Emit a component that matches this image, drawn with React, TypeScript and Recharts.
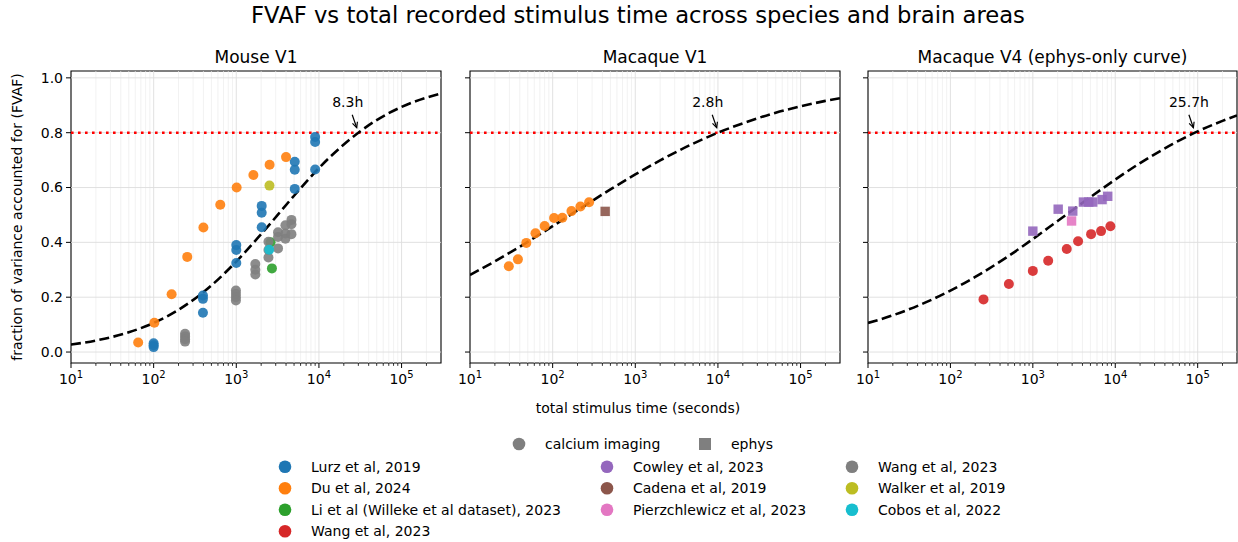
import React from "react";
import {
  ComposedChart,
  Scatter,
  Line,
  XAxis,
  YAxis,
  ReferenceLine,
  ReferenceArea,
  ReferenceDot,
} from "recharts";

const curveTime = [10, 20, 50, 100, 200, 500, 1000, 2000, 5000, 10000, 20000, 50000, 100000, 200000, 300000];
const mouseCurve = [0.027, 0.042, 0.072, 0.106, 0.154, 0.243, 0.33, 0.43, 0.57, 0.671, 0.757, 0.846, 0.894, 0.928, 0.943];
const macaqueV1Curve = [0.281, 0.331, 0.402, 0.459, 0.517, 0.593, 0.648, 0.699, 0.76, 0.8, 0.834, 0.873, 0.896, 0.916, 0.926];
const macaqueV4Curve = [0.106, 0.134, 0.181, 0.224, 0.274, 0.349, 0.412, 0.478, 0.565, 0.629, 0.689, 0.759, 0.805, 0.843, 0.863];

const panelTitles = ["Mouse V1", "Macaque V1", "Macaque V4 (ephys-only curve)"];
const crossingSeconds = [29880, 10080, 92520];
const crossingLabels = ["8.3h", "2.8h", "25.7h"];
const target = 0.8;

const sourceNames = [
  "Lurz et al, 2019",
  "Du et al, 2024",
  "Li et al (Willeke et al dataset), 2023",
  "Wang et al, 2023",
  "Cowley et al, 2023",
  "Cadena et al, 2019",
  "Pierzchlewicz et al, 2023",
  "Wang et al, 2023",
  "Walker et al, 2019",
  "Cobos et al, 2022",
];
const sourceColors = ["#1f77b4", "#ff7f0e", "#2ca02c", "#d62728", "#9467bd", "#8c564b", "#e377c2", "#7f7f7f", "#bcbd22", "#17becf"];
const sourceMethod = ["calcium", "calcium", "calcium", "calcium", "ephys", "ephys", "ephys", "calcium", "calcium", "calcium"];

// Mouse V1
const lurzTime = [100, 100, 100, 395, 395, 395, 1000, 1000, 1000, 2030, 2030, 2030, 5100, 5100, 5100, 9000, 9000, 9000];
const lurzFvaf = [0.032, 0.025, 0.018, 0.206, 0.194, 0.143, 0.39, 0.372, 0.325, 0.533, 0.508, 0.455, 0.694, 0.665, 0.595, 0.784, 0.766, 0.666];
const duMouseTime = [65, 102, 165, 255, 400, 640, 1010, 1610, 2530, 4000];
const duMouseFvaf = [0.035, 0.107, 0.211, 0.347, 0.454, 0.537, 0.6, 0.646, 0.683, 0.711];
const liTime = [2600, 2700];
const liFvaf = [0.4, 0.305];
const wangMouseTime = [240, 240, 240, 240, 990, 990, 990, 990, 1700, 1700, 1700, 2450, 2450, 2450, 3200, 3200, 3200, 3930, 3930, 3930, 4650, 4650, 4650];
const wangMouseFvaf = [0.067, 0.057, 0.047, 0.038, 0.224, 0.212, 0.2, 0.188, 0.321, 0.3, 0.283, 0.402, 0.372, 0.345, 0.437, 0.42, 0.378, 0.462, 0.432, 0.413, 0.482, 0.466, 0.43];
const walkerTime = [2520];
const walkerFvaf = [0.607];
const cobosTime = [2500];
const cobosFvaf = [0.373];

// Macaque V1
const duMacaqueTime = [29.5, 38, 48, 62, 80, 104, 131, 169, 217, 276];
const duMacaqueFvaf = [0.313, 0.338, 0.398, 0.433, 0.46, 0.489, 0.49, 0.514, 0.531, 0.546];
const cadenaTime = [432];
const cadenaFvaf = [0.513];

// Macaque V4
const wangV4Time = [252, 512, 1000, 1535, 2580, 3540, 5090, 6730, 8730];
const wangV4Fvaf = [0.192, 0.248, 0.296, 0.333, 0.376, 0.404, 0.43, 0.441, 0.459];
const cowleyTime = [1000, 2030, 3050, 4110, 4770, 5330, 6920, 8100];
const cowleyFvaf = [0.441, 0.521, 0.514, 0.547, 0.547, 0.547, 0.556, 0.568];
const pierzTime = [2950];
const pierzFvaf = [0.478];

const xTicks = [10, 100, 1000, 10000, 100000];
const yTicks = [0, 0.2, 0.4, 0.6, 0.8, 1.0];
const X_DOMAIN = [10, 300000];
const Y_DOMAIN = [-0.04, 1.025];

const FONT = "DejaVu Sans, sans-serif";

const minorX: number[] = [];
for (const d of [10, 100, 1000, 10000, 100000]) {
  for (let m = 2; m <= 9; m++) {
    if (d * m < X_DOMAIN[1]) minorX.push(d * m);
  }
}

const zip = (t: number[], f: number[]) => t.map((x, i) => ({ x, y: f[i] }));

type Group = { src: number; t: number[]; f: number[] };

const panels: { curve: number[]; groups: Group[] }[] = [
  {
    curve: mouseCurve,
    groups: [
      { src: 0, t: lurzTime, f: lurzFvaf },
      { src: 1, t: duMouseTime, f: duMouseFvaf },
      { src: 2, t: liTime, f: liFvaf },
      { src: 7, t: wangMouseTime, f: wangMouseFvaf },
      { src: 8, t: walkerTime, f: walkerFvaf },
      { src: 9, t: cobosTime, f: cobosFvaf },
    ],
  },
  {
    curve: macaqueV1Curve,
    groups: [
      { src: 1, t: duMacaqueTime, f: duMacaqueFvaf },
      { src: 5, t: cadenaTime, f: cadenaFvaf },
    ],
  },
  {
    curve: macaqueV4Curve,
    groups: [
      { src: 3, t: wangV4Time, f: wangV4Fvaf },
      { src: 4, t: cowleyTime, f: cowleyFvaf },
      { src: 6, t: pierzTime, f: pierzFvaf },
    ],
  },
];

// where each panel sits on the page
const layout = [
  { left: 0, width: 450, marginLeft: 31, marginRight: 9, yWidth: 40, labels: true },
  { left: 440, width: 410, marginLeft: 20, marginRight: 10, yWidth: 10, labels: false },
  { left: 838, width: 400, marginLeft: 20, marginRight: 1, yWidth: 10, labels: false },
];

function LogTick(props: any) {
  const { x, y, payload } = props;
  const exp = Math.round(Math.log10(payload.value));
  return (
    <text x={x} y={y + 13} textAnchor="middle" fontSize={14} fill="#000" fontFamily={FONT}>
      <tspan>10</tspan>
      <tspan dy={-6} fontSize={10}>{exp}</tspan>
    </text>
  );
}

function EmptyTick() {
  return <g />;
}

function Annotation({ cx, cy, text }: { cx: number; cy: number; text: string }) {
  const x1 = cx - 6;
  const y1 = cy - 18;
  const x2 = cx - 1.5;
  const y2 = cy - 5;
  const ang = Math.atan2(y2 - y1, x2 - x1);
  const hl = 6;
  const hw = 0.45;
  const a = [x2 - hl * Math.cos(ang - hw), y2 - hl * Math.sin(ang - hw)];
  const b = [x2 - hl * Math.cos(ang + hw), y2 - hl * Math.sin(ang + hw)];
  return (
    <g>
      <text x={cx - 26} y={cy - 26} fontSize={14} fill="#000" fontFamily={FONT}>
        {text}
      </text>
      <line x1={x1} y1={y1} x2={x2} y2={y2} stroke="#000" strokeWidth={1.2} />
      <polyline points={`${a[0]},${a[1]} ${x2},${y2} ${b[0]},${b[1]}`} fill="none" stroke="#000" strokeWidth={1.2} />
    </g>
  );
}

function marker(color: string, method: string) {
  return (p: any) =>
    method === "ephys" ? (
      <rect x={p.cx - 4.7} y={p.cy - 4.7} width={9.4} height={9.4} fill={color} fillOpacity={0.9} />
    ) : (
      <circle cx={p.cx} cy={p.cy} r={5} fill={color} fillOpacity={0.9} />
    );
}

function Panel({ idx }: { idx: number }) {
  const l = layout[idx];
  const panel = panels[idx];
  const curveData = zip(curveTime, panel.curve);
  return (
    <div style={{ position: "absolute", left: l.left, top: 0 }}>
      <ComposedChart
        width={l.width}
        height={395}
        margin={{ top: 71, right: l.marginRight, left: l.marginLeft, bottom: 0 }}
      >
        <XAxis
          dataKey="x"
          type="number"
          scale="log"
          domain={X_DOMAIN}
          allowDataOverflow
          ticks={xTicks}
          tick={<LogTick />}
          tickSize={5}
          tickMargin={3}
          height={32}
          axisLine={false}
          tickLine={{ stroke: "#000", strokeWidth: 1 }}
        />
        <YAxis
          dataKey="y"
          type="number"
          domain={Y_DOMAIN}
          allowDataOverflow
          ticks={yTicks}
          width={l.yWidth}
          tickSize={5}
          tickMargin={3}
          axisLine={false}
          tickLine={{ stroke: "#000", strokeWidth: 1 }}
          tick={l.labels ? { fontSize: 14, fill: "#000", fontFamily: FONT } : <EmptyTick />}
          tickFormatter={(v: number) => v.toFixed(1)}
        />
        {minorX.map((v) => (
          <ReferenceLine key={"mg" + v} x={v} stroke="#ececec" strokeWidth={0.7} />
        ))}
        {xTicks.slice(1).map((v) => (
          <ReferenceLine key={"g" + v} x={v} stroke="#dedede" strokeWidth={0.9} />
        ))}
        {yTicks.map((v) => (
          <ReferenceLine key={"h" + v} y={v} stroke="#dedede" strokeWidth={0.9} />
        ))}
        {minorX.map((v) => (
          <ReferenceLine
            key={"mt" + v}
            segment={[
              { x: v, y: Y_DOMAIN[0] },
              { x: v, y: Y_DOMAIN[0] - 0.0105 },
            ]}
            ifOverflow="visible"
            stroke="#000"
            strokeWidth={0.8}
          />
        ))}
        <ReferenceLine y={target} stroke="#ff0000" strokeWidth={2.6} strokeDasharray="2.6 4.4" />
        {panel.groups.map((g) => (
          <Scatter
            key={g.src}
            name={sourceNames[g.src]}
            data={zip(g.t, g.f)}
            dataKey="y"
            fill={sourceColors[g.src]}
            shape={marker(sourceColors[g.src], sourceMethod[g.src])}
            isAnimationActive={false}
          />
        ))}
        <Line
          data={curveData}
          dataKey="y"
          type="monotone"
          stroke="#000"
          strokeWidth={2.6}
          strokeDasharray="10 4.4"
          dot={false}
          activeDot={false}
          isAnimationActive={false}
        />
        <ReferenceDot
          x={crossingSeconds[idx]}
          y={target}
          r={0}
          shape={(p: any) => <Annotation cx={p.cx} cy={p.cy} text={crossingLabels[idx]} />}
        />
        <ReferenceArea
          x1={X_DOMAIN[0]}
          x2={X_DOMAIN[1]}
          y1={Y_DOMAIN[0]}
          y2={Y_DOMAIN[1]}
          fill="none"
          fillOpacity={0}
          stroke="#000"
          strokeWidth={1.1}
        />
      </ComposedChart>
    </div>
  );
}

const titleCenters = [256, 655, 1052.5];
const legendColX = [285, 607, 852];
const legendColOf = [0, 0, 0, 0, 1, 1, 1, 2, 2, 2];
const legendRowOf = [0, 1, 2, 3, 0, 1, 2, 0, 1, 2];

export default function App() {
  return (
    <div
      style={{
        position: "absolute",
        left: 0,
        top: 0,
        width: 1238,
        height: 542,
        background: "#fff",
        fontFamily: FONT,
      }}
    >
      {panels.map((_, i) => (
        <Panel key={i} idx={i} />
      ))}
      <svg
        width={1238}
        height={542}
        style={{ position: "absolute", left: 0, top: 0, pointerEvents: "none" }}
        fontFamily={FONT}
      >
        <text x={638} y={23} textAnchor="middle" fontSize={22.7} fill="#000">
          FVAF vs total recorded stimulus time across species and brain areas
        </text>
        {panelTitles.map((t, i) => (
          <text key={t} x={titleCenters[i]} y={63} textAnchor="middle" fontSize={17} fill="#000">
            {t}
          </text>
        ))}
        <text
          x={18}
          y={217}
          transform="rotate(-90 18 217)"
          textAnchor="middle"
          dominantBaseline="middle"
          fontSize={14}
          fill="#000"
        >
          fraction of variance accounted for (FVAF)
        </text>
        <text x={638} y={413} textAnchor="middle" fontSize={14} fill="#000">
          total stimulus time (seconds)
        </text>

        <circle cx={519} cy={444} r={6.3} fill="#7f7f7f" />
        <text x={545} y={449} fontSize={14} fill="#000">
          calcium imaging
        </text>
        <rect x={699} y={438} width={12} height={12} fill="#7f7f7f" />
        <text x={731} y={449} fontSize={14} fill="#000">
          ephys
        </text>

        {sourceNames.map((name, i) => {
          const cx = legendColX[legendColOf[i]];
          const cy = 466.7 + legendRowOf[i] * 21.5;
          return (
            <g key={i}>
              <circle cx={cx} cy={cy} r={6.3} fill={sourceColors[i]} />
              <text x={cx + 26} y={cy + 5} fontSize={14} fill="#000">
                {name}
              </text>
            </g>
          );
        })}
      </svg>
    </div>
  );
}
